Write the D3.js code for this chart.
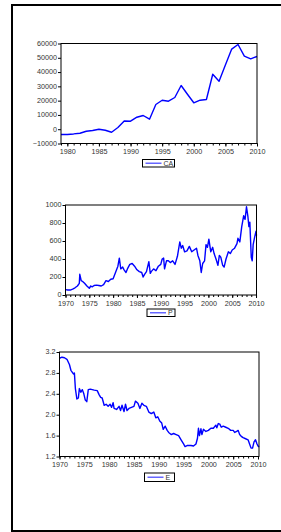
<!DOCTYPE html>
<html><head><meta charset="utf-8">
<script src="https://cdn.jsdelivr.net/npm/d3@7"></script>
<style>body{margin:0;background:#fff}svg{display:block}text{font-family:"Liberation Sans",Arial,sans-serif}</style>
</head><body>
<script>
// ---- DATA ----
const caYears = d3.range(1979, 2011);
const caValues = [-3700,-3700,-3300,-2800,-1400,-900,0,-700,-2100,1200,5800,5600,8400,9600,7000,17300,20300,19600,22200,30600,24500,18500,20300,20800,38500,33600,44900,56100,59300,51200,49300,50900];
const caTicks = [-10000,0,10000,20000,30000,40000,50000,60000];

const pDates = [1970.0,1970.5,1971.0,1971.5,1972.0,1972.5,1972.9,1973.0,1973.3,1973.6,1974.0,1974.5,1975.0,1975.3,1975.6,1976.0,1976.5,1977.0,1977.5,1978.0,1978.5,1979.0,1979.5,1980.0,1980.5,1981.0,1981.3,1981.6,1982.0,1982.3,1982.7,1983.0,1983.5,1984.0,1984.5,1985.0,1985.5,1986.0,1986.3,1986.6,1987.0,1987.5,1987.8,1988.0,1988.5,1989.0,1989.5,1990.0,1990.3,1990.6,1990.8,1991.2,1991.6,1992.0,1992.5,1993.0,1993.5,1994.0,1994.3,1994.6,1995.0,1995.5,1996.0,1996.5,1997.0,1997.5,1997.8,1998.2,1998.5,1998.8,1999.2,1999.5,1999.8,2000.1,2000.5,2000.9,2001.2,2001.6,2002.0,2002.3,2002.6,2003.0,2003.3,2003.7,2004.2,2004.6,2005.0,2005.5,2006.0,2006.2,2006.6,2007.0,2007.4,2007.7,2008.0,2008.3,2008.5,2008.7,2009.0,2009.2,2009.4,2009.7,2010.0,2010.1];
const pValues = [60,55,55,65,80,100,130,230,160,150,130,100,75,100,90,105,110,105,100,115,160,150,175,180,250,320,410,290,310,280,250,290,340,350,320,280,260,250,200,230,260,370,240,260,290,270,320,340,400,410,290,380,380,360,380,340,430,590,520,550,480,490,540,480,500,520,440,380,250,350,380,560,530,620,480,530,460,400,330,440,420,330,310,400,480,460,500,520,570,630,590,760,880,840,980,870,760,810,420,380,560,640,710,660];
const pTicks = [0,200,400,600,800,1000];

const eDates = [1970.0,1970.5,1971.0,1971.5,1972.0,1972.3,1972.8,1973.0,1973.2,1973.5,1973.8,1974.0,1974.3,1974.6,1974.9,1975.2,1975.5,1975.8,1976.2,1977.0,1977.6,1978.0,1978.3,1978.6,1979.0,1979.4,1979.8,1980.2,1980.5,1980.8,1981.0,1981.5,1982.0,1982.3,1982.6,1983.0,1983.3,1983.6,1984.0,1984.5,1985.0,1985.3,1985.8,1986.2,1986.6,1987.0,1987.5,1988.0,1988.5,1989.0,1989.4,1989.8,1990.2,1990.6,1990.9,1991.3,1991.7,1992.0,1992.5,1993.0,1993.5,1994.0,1994.5,1995.0,1995.3,1995.7,1996.5,1997.0,1997.5,1997.8,1998.0,1998.2,1998.5,1998.7,1999.0,1999.5,2000.0,2000.5,2001.0,2001.5,2001.7,2002.0,2002.3,2002.6,2003.0,2003.5,2004.0,2004.5,2005.0,2005.3,2005.7,2006.0,2006.3,2006.7,2007.0,2007.5,2008.0,2008.3,2008.6,2008.9,2009.2,2009.5,2009.8,2010.0,2010.2];
const eValues = [3.08,3.10,3.09,3.06,2.96,2.85,2.78,2.80,2.50,2.30,2.32,2.50,2.43,2.48,2.40,2.28,2.25,2.48,2.49,2.47,2.46,2.38,2.33,2.32,2.18,2.20,2.16,2.20,2.14,2.23,2.12,2.10,2.16,2.08,2.18,2.06,2.20,2.08,2.12,2.14,2.16,2.26,2.22,2.12,2.22,2.18,2.16,2.05,2.02,2.05,1.94,1.96,1.88,1.84,1.72,1.78,1.70,1.66,1.62,1.64,1.62,1.60,1.52,1.44,1.39,1.41,1.41,1.40,1.44,1.55,1.74,1.60,1.73,1.62,1.72,1.68,1.70,1.74,1.74,1.80,1.75,1.83,1.82,1.76,1.78,1.76,1.74,1.70,1.70,1.66,1.68,1.70,1.62,1.58,1.56,1.54,1.52,1.44,1.36,1.36,1.48,1.52,1.44,1.40,1.38];
const eTicks = [1.2,1.6,2.0,2.4,2.8,3.2];

const yearLabels = [1970,1975,1980,1985,1990,1995,2000,2005,2010];

// ---- DRAW ----
const W = 281, H = 532;
const svg = d3.select("body").append("svg").attr("width", W).attr("height", H);
svg.append("rect").attr("x", 12).attr("y", 5).attr("width", 320).attr("height", 526)
  .attr("fill", "none").attr("stroke", "#000").attr("stroke-width", 2);

function panel(cfg) {
  const {xs, ys, xDomain, yDomain, yTicks, yFmt, left, right, top, bottom, name, legend, xTickYears} = cfg;
  const x = d3.scaleLinear().domain(xDomain).range([left, right]);
  const y = d3.scaleLinear().domain(yDomain).range([bottom, top]);
  const g = svg.append("g");
  // y axis
  const ya = g.append("g").attr("transform", `translate(${left},0)`)
    .call(d3.axisLeft(y).tickValues(yTicks).tickFormat(yFmt).tickSize(3).tickPadding(1));
  ya.select(".domain").remove();
  ya.selectAll("text").attr("font-size", 7.2).attr("fill", "#333").attr("dy", "0.25em")
    .attr("font-family", "Liberation Sans, Arial, sans-serif");
  ya.selectAll("line").attr("stroke", "#000");
  // x axis minor ticks
  const xa = g.append("g").attr("transform", `translate(0,${bottom})`)
    .call(d3.axisBottom(x).tickValues(xTickYears).tickFormat("").tickSize(2));
  xa.select(".domain").remove();
  xa.selectAll("line").attr("stroke", "#000");
  const xl = g.append("g").attr("transform", `translate(0,${bottom})`)
    .call(d3.axisBottom(x).tickValues(yearLabels.filter(v => v >= xDomain[0] && v <= xDomain[1] + 0.2)).tickFormat(d3.format("d")).tickSize(3).tickPadding(2.5));
  xl.select(".domain").remove();
  xl.selectAll("line").attr("stroke", "#000");
  xl.selectAll("text").attr("font-size", 7.2).attr("fill", "#333").attr("font-family", "Liberation Sans, Arial, sans-serif");
  // line
  const pts = xs.map((v, i) => [v, ys[i]]);
  g.append("path").datum(pts).attr("fill", "none").attr("stroke", "#0000ff").attr("stroke-width", 1.4)
    .attr("stroke-linejoin", "round")
    .attr("d", d3.line().x(d => x(d[0])).y(d => y(d[1])));
  // frame
  g.append("rect").attr("x", left).attr("y", top).attr("width", right - left).attr("height", bottom - top)
    .attr("fill", "none").attr("stroke", "#000").attr("stroke-width", 1);
  // legend
  const [lx, ly, lw, lh] = legend;
  g.append("rect").attr("x", lx).attr("y", ly).attr("width", lw).attr("height", lh)
    .attr("fill", "#fff").attr("stroke", "#000").attr("stroke-width", 1);
  g.append("line").attr("x1", lx + 3).attr("x2", lx + 19).attr("y1", ly + lh / 2).attr("y2", ly + lh / 2)
    .attr("stroke", "#6666ff").attr("stroke-width", 1.5);
  g.append("text").attr("x", lx + 21).attr("y", ly + lh / 2 + 2.5).attr("font-size", 7).attr("fill", "#333").text(name);
}

panel({xs: caYears, ys: caValues, xDomain: [1979, 2010], yDomain: [-10000, 60000], yTicks: caTicks,
  yFmt: d3.format("d"), left: 61, right: 257, top: 43.5, bottom: 143.5, name: "CA",
  legend: [142.5, 159.5, 32, 7.5], xTickYears: d3.range(1979, 2011)});

panel({xs: pDates, ys: pValues, xDomain: [1970, 2010.1], yDomain: [0, 1000], yTicks: pTicks,
  yFmt: d3.format("d"), left: 65.5, right: 256.5, top: 205, bottom: 295, name: "P",
  legend: [147, 309, 28, 7.5], xTickYears: d3.range(1970, 2011)});

panel({xs: eDates, ys: eValues, xDomain: [1970, 2010.2], yDomain: [1.2, 3.2], yTicks: eTicks,
  yFmt: d3.format(".1f"), left: 59.5, right: 259, top: 352, bottom: 456.5, name: "E",
  legend: [144.5, 473, 30, 8.5], xTickYears: d3.range(1970, 2011)});
</script>
</body></html>
